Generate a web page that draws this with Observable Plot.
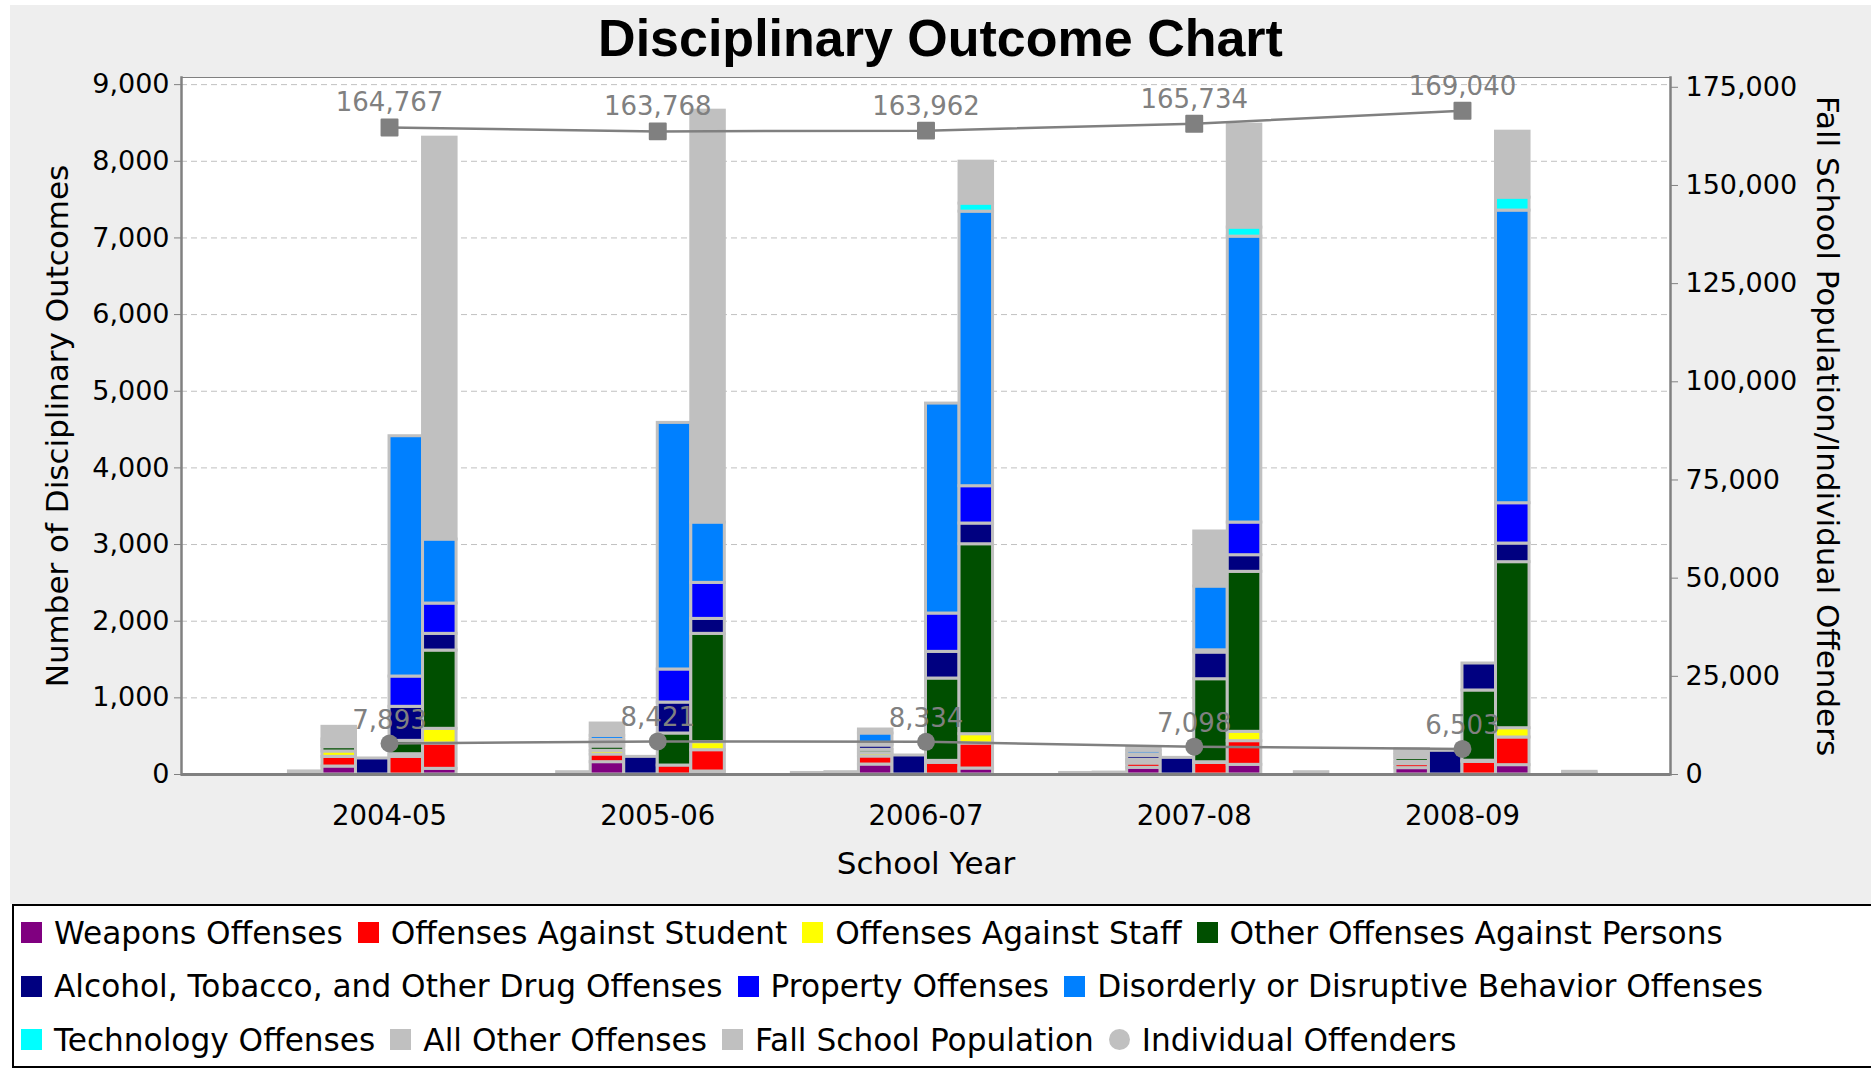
<!DOCTYPE html>
<html><head><meta charset="utf-8">
<script src="https://cdn.jsdelivr.net/npm/d3@7"></script>
<script src="https://cdn.jsdelivr.net/npm/@observablehq/plot@0.6"></script>
<style>
body{margin:0;background:#fff;width:1871px;height:1068px;overflow:hidden;position:relative;font-family:"DejaVu Sans",sans-serif}
#bg{position:absolute;left:10px;top:5px;width:1861px;height:899px;background:#eeeeee}
#title{position:absolute;left:10px;width:1861px;top:13px;text-align:center;font:bold 52px "Liberation Sans",Arial,sans-serif;line-height:51px;color:#000}
#plot{position:absolute;left:10px;top:66px}
#legend{position:absolute;left:12px;top:904px;width:1859px;height:164px;box-sizing:border-box;border:2.5px solid #000;border-right:none;background:#fff;padding-left:7px}
.row{height:53.5px;display:flex;align-items:center}
.item{display:flex;align-items:center;margin-right:15px;font-size:31.2px;white-space:nowrap;color:#000}
.sw{width:21px;height:21px;margin-right:12px;flex:none}
</style></head><body>
<div id="bg"></div>
<div id="title">Disciplinary Outcome Chart</div>
<div id="plot"></div>
<div id="legend"></div>
<script>
const years = ["2004-05","2005-06","2006-07","2007-08","2008-09"];
const series = ["Weapons Offenses","Offenses Against Student","Offenses Against Staff","Other Offenses Against Persons","Alcohol, Tobacco, and Other Drug Offenses","Property Offenses","Disorderly or Disruptive Behavior Offenses","Technology Offenses","All Other Offenses"];
const colors = ["#800080","#ff0000","#ffff00","#004f00","#000080","#0000ff","#0080ff","#00ffff","#c0c0c0"];
// eight outcome bars per school year; each lists the nine offense counts (bottom to top)
const y2004 = [
  [0,0,0,0,0,0,0,0,0],
  [0,0,0,0,0,0,0,0,40],
  [104,126,70,57,30,35,35,0,165],
  [0,0,0,0,209,0,0,0,0],
  [0,230,35,174,444,395,3135,0,0],
  [74,330,192,1021,218,395,835,0,5243],
  [0,0,0,0,0,0,0,0,0],
  [0,0,0,0,0,0,0,0,0]
];
const y2005 = [
  [0,0,0,0,0,0,0,0,0],
  [0,0,0,0,0,0,0,0,30],
  [161,100,48,56,30,57,52,0,161],
  [0,0,0,0,230,0,0,0,0],
  [0,117,0,418,404,431,3217,0,0],
  [39,278,105,1413,195,470,787,0,5373],
  [0,0,0,0,0,0,0,0,0],
  [0,0,0,0,0,0,0,0,0]
];
const y2006 = [
  [0,0,0,0,0,0,0,0,20],
  [0,0,0,0,0,0,0,0,30],
  [130,105,43,44,56,22,135,0,52],
  [0,0,0,0,248,0,0,0,0],
  [0,152,26,1074,348,500,2739,0,0],
  [78,326,122,2478,270,487,3582,105,547],
  [0,0,0,0,0,0,0,0,0],
  [0,0,0,0,0,0,0,0,0]
];
const y2007 = [
  [0,0,0,0,0,0,0,0,20],
  [0,0,0,0,0,0,0,0,25],
  [87,56,25,25,50,20,46,0,46],
  [0,0,0,0,217,0,0,0,0],
  [0,150,10,1083,348,29,832,0,718],
  [126,309,122,2087,217,426,3730,118,1343],
  [0,0,0,0,0,0,0,0,0],
  [0,0,0,0,0,0,0,0,30]
];
const y2008 = [
  [0,0,0,0,0,0,0,0,0],
  [0,0,0,0,0,0,0,0,0],
  [83,52,30,50,37,25,36,0,17],
  [0,0,0,0,309,0,0,0,0],
  [0,165,15,916,352,0,0,0,0],
  [122,361,121,2166,243,526,3818,169,860],
  [0,0,0,0,0,0,0,0,0],
  [0,0,0,0,15,0,0,0,20]
];
const fallPopulation = [164767,163768,163962,165734,169040];
const individualOffenders = [7893,8421,8334,7098,6503];
const leftTicks = [0,1000,2000,3000,4000,5000,6000,7000,8000,9000];
const rightTicks = [0,25000,50000,75000,100000,125000,150000,175000];
const leftMax = 9093, rightMax = 177492;

const stacks = [y2004,y2005,y2006,y2007,y2008];
const nSlots = 8;
const key = (y, s) => y + "|" + s;
const keys = years.flatMap(y => d3.range(1, nSlots + 1).map(s => key(y, s)));
const barData = [];
years.forEach((y, i) => stacks[i].forEach((vals, s) => vals.forEach((v, j) => {
  if (v > 0) barData.push({key: key(y, s + 1), series: series[j], value: v});
})));
const k = leftMax / rightMax;
const fmt = d3.format(",");
const popData = years.map((y, i) => ({key: key(y, 5), value: fallPopulation[i]}));
const offData = years.map((y, i) => ({key: key(y, 5), value: individualOffenders[i]}));

const W = 1861, H = 838, mL = 171, mR = 201, mT = 11, mB = 130;
const padOuter = 2.204;
const step = (W - mL - mR) / (keys.length + 2 * padOuter);
const half = -step / 2;

const chart = Plot.plot({
  width: W, height: H, marginLeft: mL, marginRight: mR, marginTop: mT, marginBottom: mB,
  style: {fontFamily: "DejaVu Sans", fontSize: "27px", background: "transparent", color: "#000", overflow: "visible"},
  x: {type: "band", domain: keys, paddingInner: 0, paddingOuter: padOuter, round: false, axis: null, label: null},
  y: {domain: [0, leftMax], axis: null, label: null},
  color: {domain: series, range: colors},
  marks: [
    Plot.frame({fill: "white"}),
    Plot.gridY(leftTicks, {stroke: "#c0c0c0", strokeOpacity: 1, strokeWidth: 1, strokeDasharray: "6,4"}),
    Plot.barY(barData, {x: "key", y: "value", fill: "series", order: series, stroke: "#c0c0c0", strokeWidth: 3, inset: 0}),
    Plot.frame({stroke: "#808080", strokeWidth: 1}),
    Plot.frame({anchor: "left", stroke: "#808080", strokeWidth: 2.5}),
    Plot.frame({anchor: "right", stroke: "#808080", strokeWidth: 2.5}),
    Plot.ruleY([0], {stroke: "#808080", strokeWidth: 3}),
    Plot.axisY(leftTicks, {anchor: "left", label: null, tickFormat: fmt, tickSize: 7, tickPadding: 5, stroke: "#808080", fill: "#000", fontSize: 27}),
    Plot.axisY(rightTicks.map(v => v * k), {anchor: "right", label: null, tickFormat: d => fmt(Math.round(d / k)), tickSize: 7, tickPadding: 8, stroke: "#808080", fill: "#000", fontSize: 27}),
    Plot.axisX(years.map(y => key(y, 5)), {anchor: "bottom", label: null, tickSize: 0, tickPadding: 31, tickFormat: d => d.split("|")[0], dx: half, fill: "#000", fontSize: 27.5}),
    Plot.line(popData, {x: "key", y: d => d.value * k, dx: half, stroke: "#808080", strokeWidth: 2.5}),
    Plot.line(offData, {x: "key", y: d => d.value * k, dx: half, stroke: "#808080", strokeWidth: 2.5}),
    Plot.dot(popData, {x: "key", y: d => d.value * k, dx: half, symbol: "square", r: 9, fill: "#808080", stroke: "#808080", strokeWidth: 2, strokeLinejoin: "round"}),
    Plot.dot(offData, {x: "key", y: d => d.value * k, dx: half, symbol: "circle", r: 9, fill: "#808080"}),
    Plot.text(popData, {x: "key", y: d => d.value * k, dx: half, dy: -16, text: d => fmt(d.value), lineAnchor: "bottom", fill: "#808080", fontSize: 26}),
    Plot.text(offData, {x: "key", y: d => d.value * k, dx: half, dy: -15, text: d => fmt(d.value), lineAnchor: "bottom", fill: "#808080", fontSize: 26}),
    Plot.text(["Number of Disciplinary Outcomes"], {frameAnchor: "left", text: d => d, rotate: -90, dx: -123, fontSize: 31, lineAnchor: "middle", textAnchor: "middle", fill: "#000"}),
    Plot.text(["Fall School Population/Individual Offenders"], {frameAnchor: "right", text: d => d, rotate: 90, dx: 156, fontSize: 31, lineAnchor: "middle", textAnchor: "middle", fill: "#000"}),
    Plot.text(["School Year"], {frameAnchor: "bottom", text: d => d, dy: 90, fontSize: 31, lineAnchor: "middle", textAnchor: "middle", fill: "#000"})
  ]
});
document.getElementById("plot").appendChild(chart);

// legend
const legendItems = series.map((s, i) => ({name: s, color: colors[i], shape: "square"}))
  .concat([{name: "Fall School Population", color: "#c0c0c0", shape: "square"}, {name: "Individual Offenders", color: "#c0c0c0", shape: "circle"}]);
const legendRows = [[0,1,2,3],[4,5,6],[7,8,9,10]];
const legend = document.getElementById("legend");
legendRows.forEach(r => {
  const row = document.createElement("div"); row.className = "row";
  r.forEach(i => {
    const it = legendItems[i];
    const el = document.createElement("div"); el.className = "item";
    const sw = document.createElement("span"); sw.className = "sw";
    sw.style.background = it.color;
    if (it.shape === "circle") sw.style.borderRadius = "50%";
    const tx = document.createElement("span"); tx.textContent = it.name;
    el.appendChild(sw); el.appendChild(tx); row.appendChild(el);
  });
  legend.appendChild(row);
});
</script>
</body></html>
